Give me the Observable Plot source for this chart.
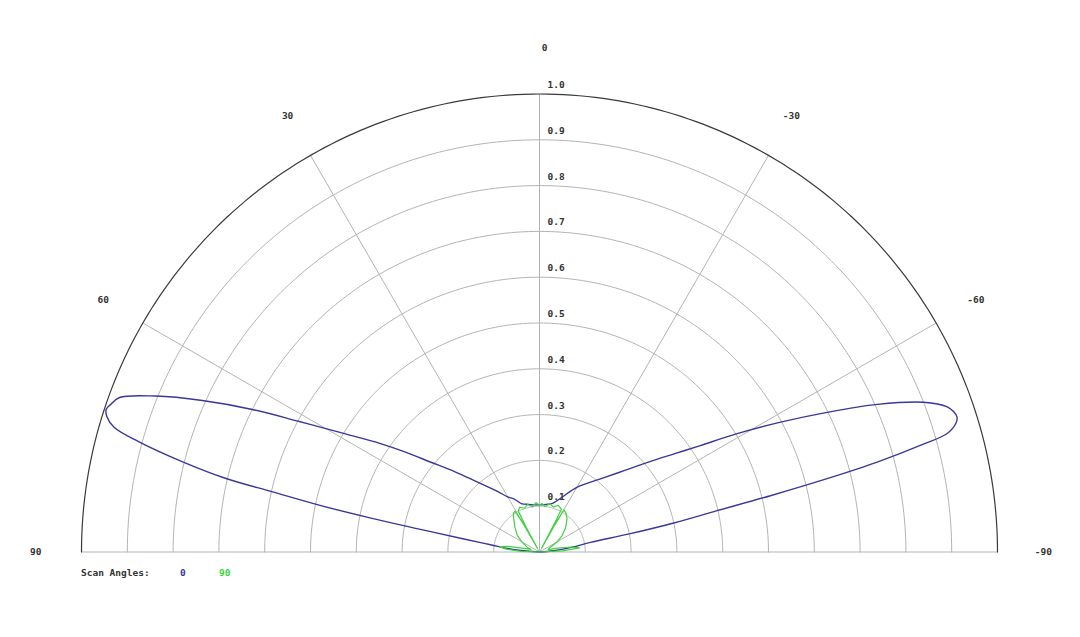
<!DOCTYPE html>
<html>
<head>
<meta charset="utf-8">
<script src="https://cdn.jsdelivr.net/npm/d3@7"></script>
<script src="https://cdn.jsdelivr.net/npm/@observablehq/plot@0.6"></script>
<style>
  html, body { margin: 0; padding: 0; background: #fff; }
  #wrap { width: 1080px; height: 637px; position: relative; overflow: hidden; }
  #legend { position: relative; height: 75px; font-family: "DejaVu Sans Mono", monospace; font-size: 9.5px; font-weight: bold; }
  #legend span { position: absolute; top: 5px; }
</style>
</head>
<body>
<div id="wrap">
  <div id="chart"></div>
  <div id="legend"></div>
</div>
<script>
// ---- data ----
const spokeAngles = [-90, -60, -30, 0, 30, 60, 90];
const ringValues = [0.1, 0.2, 0.3, 0.4, 0.5, 0.6, 0.7, 0.8, 0.9, 1.0];
const ringLabels = ["0.1", "0.2", "0.3", "0.4", "0.5", "0.6", "0.7", "0.8", "0.9", "1.0"];
const angleLabels = [0, 30, 60, 90, -30, -60, -90];

// scan angle 0 (blue)
const blueAngles = [-90, -85, -81.6, -79.3, -78.6, -77.8, -76.9, -76.3, -75.7, -75.1, -74.3, -73.8, -72.8, -72.1, -71.3, -70.4, -68.7, -66.4, -64.1, -61.7, -59.1, -56.5, -54.1, -50.8, -46.4, -39.8, -30.2, -22.5, -15, -8, 0, 8, 15, 20, 25.8, 30.1, 34.9, 41.7, 46.4, 50.5, 53.3, 55.7, 58.8, 61.5, 63.6, 65.8, 67.9, 69.8, 71, 71.8, 72.6, 73.65, 74.6, 75.8, 76.8, 77.3, 78.0, 78.6, 79.2, 80.2, 81.6, 85, 90];
const blueR      = [0, 0.03, 0.072, 0.113, 0.20, 0.30, 0.398, 0.519, 0.648, 0.763, 0.872, 0.927, 0.952, 0.958, 0.955, 0.945, 0.90, 0.805, 0.698, 0.598, 0.503, 0.421, 0.367, 0.313, 0.259, 0.208, 0.164, 0.13, 0.11, 0.105, 0.103, 0.104, 0.108, 0.112, 0.129, 0.139, 0.162, 0.205, 0.253, 0.309, 0.365, 0.42, 0.50, 0.597, 0.70, 0.807, 0.905, 0.977, 0.99, 0.996, 0.99, 0.968, 0.908, 0.805, 0.703, 0.597, 0.49, 0.38, 0.27, 0.17, 0.108, 0.05, 0];

// scan angle 90 (green)
const greenAngles = [-90, -87, -84, -81, -78, -75, -70, -66.4, -60, -54, -47, -39.8, -34, -30, -28.7, -28.3, -27.8, -27, -22, -17, -12, -7, -3, 0, 4, 9, 14, 19, 24, 27.5, 28.3, 29, 29.6, 31, 34, 37.7, 45, 53.5, 60, 68.7, 73, 77, 80, 82.5, 85, 88, 90];
const greenR      = [0, 0.05, 0.088, 0.07, 0.04, 0.02, 0.022, 0.026, 0.045, 0.061, 0.078, 0.094, 0.103, 0.106, 0.06, 0.01, 0.07, 0.105, 0.11, 0.103, 0.108, 0.1, 0.106, 0.102, 0.108, 0.1, 0.107, 0.101, 0.107, 0.1, 0.06, 0.01, 0.07, 0.104, 0.102, 0.092, 0.076, 0.06, 0.045, 0.029, 0.02, 0.035, 0.07, 0.088, 0.075, 0.04, 0];

const scanLabels = ["0", "90"];
const scanColors = ["#38389c", "#3ed43e"];

// ---- helpers ----
const rad = d => d * Math.PI / 180;
const toXY = (a, r) => ({x: -r * Math.sin(rad(a)), y: r * Math.cos(rad(a))});

const blue = blueAngles.map((a, i) => toXY(a, blueR[i]));
const green = greenAngles.map((a, i) => toXY(a, greenR[i]));

const arcSteps = d3.range(-90, 90.01, 1);
const rings = ringValues.flatMap(v => arcSteps.map(a => ({ring: v, ...toXY(a, v)})));
const innerRings = rings.filter(d => d.ring < 1);
const outerRing = rings.filter(d => d.ring === 1);
const spokes = spokeAngles.map(a => ({x1: 0, y1: 0, x2: toXY(a, 1).x, y2: toXY(a, 1).y}));
const ringText = ringValues.map((v, i) => ({x: 0, y: v, label: ringLabels[i]}));
const angleText = angleLabels.map(a => ({...toXY(a, 1.1), label: String(a), a}));

const chart = Plot.plot({
  width: 1080,
  height: 562,
  margin: 0,
  x: {type: "linear", domain: [-1, 1], range: [81, 997], axis: null},
  y: {type: "linear", domain: [0, 1], range: [551.5, 93.5], axis: null},
  style: {fontFamily: "'DejaVu Sans Mono', monospace", fontSize: "9.5px", background: "#fff", overflow: "visible"},
  marks: [
    Plot.line(innerRings, {x: "x", y: "y", z: "ring", stroke: "#b4b4b4", strokeWidth: 1}),
    Plot.link(spokes, {x1: "x1", y1: "y1", x2: "x2", y2: "y2", stroke: "#b4b4b4", strokeWidth: 1}),
    Plot.line(outerRing, {x: "x", y: "y", stroke: "#3a3a3a", strokeWidth: 1.2}),
    Plot.line(blue, {x: "x", y: "y", stroke: scanColors[0], strokeWidth: 1.4, curve: "catmull-rom"}),
    Plot.line(green, {x: "x", y: "y", stroke: scanColors[1], strokeWidth: 1.2, curve: "linear"}),
    Plot.text(ringText, {x: "x", y: "y", text: "label", textAnchor: "start", dx: 8, dy: -9, fill: "#333", fontWeight: "bold"}),
    Plot.text(angleText.filter(d => d.a !== 0), {x: "x", y: "y", text: "label", textAnchor: "middle", fill: "#333", fontWeight: "bold"}),
    Plot.text(angleText.filter(d => d.a === 0), {x: "x", y: "y", text: "label", textAnchor: "middle", dx: 5, fill: "#333", fontWeight: "bold"})
  ]
});
document.getElementById("chart").appendChild(chart);

const legend = document.getElementById("legend");
const title = document.createElement("span");
title.textContent = "Scan Angles:";
title.style.left = "81px";
title.style.color = "#333";
legend.appendChild(title);
const legendLeft = [180, 219];
scanLabels.forEach((s, i) => {
  const sp = document.createElement("span");
  sp.textContent = s;
  sp.style.left = legendLeft[i] + "px";
  sp.style.color = scanColors[i];
  legend.appendChild(sp);
});
</script>
</body>
</html>
